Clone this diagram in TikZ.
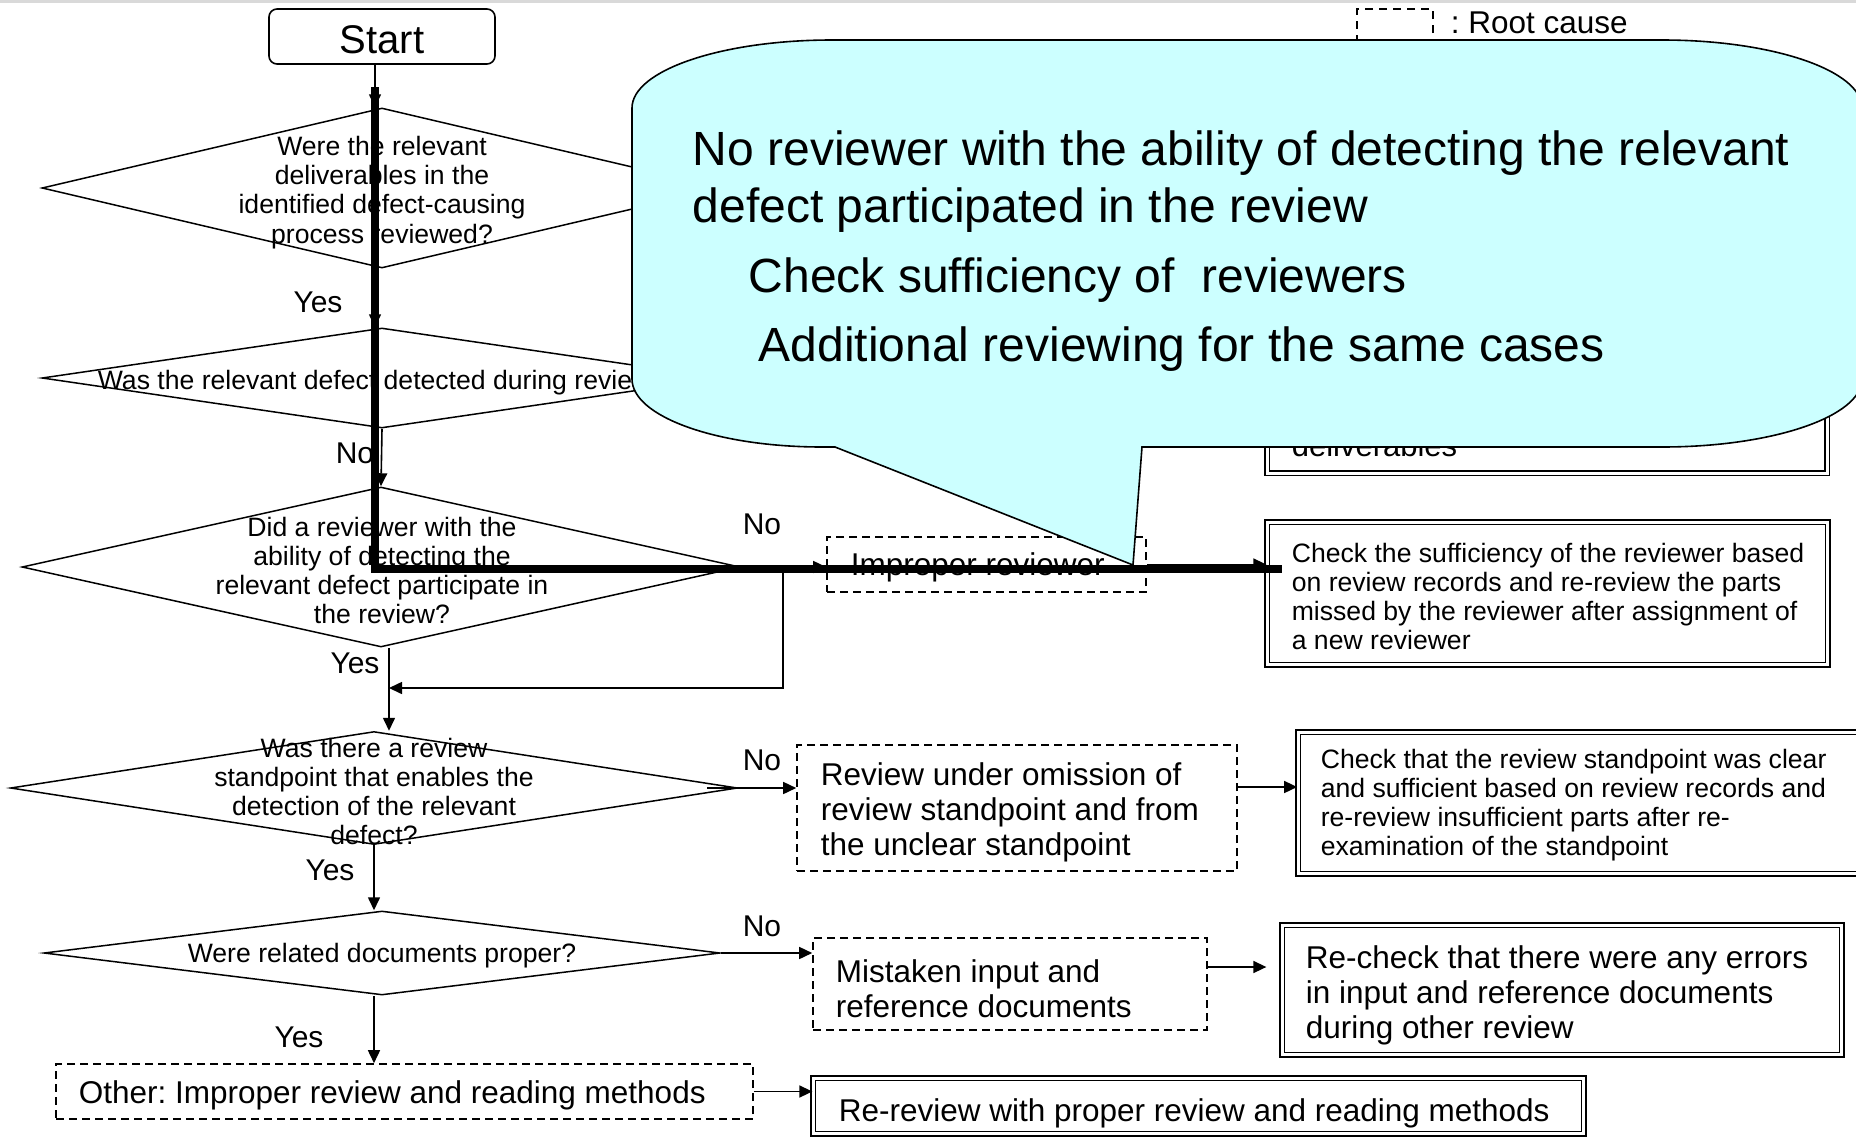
\documentclass[tikz,border=0pt]{standalone}
\usepackage{fontspec}
\setmainfont{Liberation Sans}
\usetikzlibrary{shapes.geometric,arrows.meta}

\definecolor{calloutfill}{HTML}{CCFFFF}
\definecolor{topbar}{HTML}{D9D9D9}

\newcommand{\fsz}[2]{\fontsize{#1}{#2}\selectfont}
\frenchspacing

\begin{document}
\begin{tikzpicture}[x=1pt,y=-1pt,
  line width=1.6pt,
  arr/.style={-{Triangle[length=13pt,width=12pt]}, line width=1.6pt},
  dia/.style={draw, shape=diamond, inner sep=0pt, line width=1.5pt},
  qtext/.style={align=center, inner sep=0pt, font=\fsz{26.6}{29.2}},
  lbl/.style={inner sep=0pt, font=\fsz{30}{32}},
  rootbox/.style={draw, dash pattern=on 8pt off 5pt, line width=1.6pt, inner sep=0pt},
  actbox/.style={draw, double, double distance=3pt, line width=1.7pt, inner sep=0pt},
  rtext/.style={anchor=west, align=left, inner sep=0pt, font=\fsz{31.5}{35}},
  atext/.style={anchor=west, align=left, inner sep=0pt, font=\fsz{26.6}{29}},
  btext/.style={anchor=west, align=left, inner sep=0pt, font=\fsz{31.5}{35}},
  ctext/.style={anchor=base west, inner sep=0pt, font=\fsz{48}{57}},
]
\useasboundingbox (0,0) rectangle (1856,1138);
\fill[topbar] (0,0) rectangle (1856,3.3);

% legend
\node[draw, dash pattern=on 8pt off 6pt, line width=1.5pt, minimum width=76pt,
      minimum height=60pt, inner sep=0pt] (leg) at (1395,39) {};
\node[anchor=base west, inner sep=0pt, font=\fsz{31.5}{34}] (legt) at (1450,33) {: Root cause};

% start
\node[draw, rounded corners=8pt, line width=1.6pt, minimum width=226pt,
      minimum height=55pt, inner sep=0pt] (start) at (382,36.5) {};
\node[inner sep=0pt, font=\fsz{40}{44}] (startt) at (382,39.5) {Start};

% decisions
\node[dia, minimum width=680pt, minimum height=160pt] (d1) at (382,188) {};
\node[dia, minimum width=680pt, minimum height=100pt] (d2) at (382,378) {};
\node[dia, minimum width=718pt, minimum height=160pt] (d3) at (381,567) {};
\node[dia, minimum width=727pt, minimum height=113pt] (d4) at (374,788) {};
\node[dia, minimum width=676pt, minimum height=84pt]  (d5) at (382,953) {};

\node[qtext] (q1) at (382,192.5) {Were the relevant\\deliverables in the\\identified defect-causing\\process reviewed?};
\node[qtext] (q2) at (382,382.5) {Was the relevant defect detected during review?};
\node[qtext] (q3) at (382,570.5) {Did a reviewer with the\\ability of detecting the\\relevant defect participate in\\the review?};
\node[qtext] (q4) at (374,791.5) {Was there a review\\standpoint that enables the\\detection of the relevant\\defect?};
\node[qtext] (q5) at (382,955.5) {Were related documents proper?};

% branch labels
\node[lbl] (y1) at (318,302) {Yes};
\node[lbl] (n2) at (355,453) {No};
\node[lbl] (n3) at (762,524) {No};
\node[lbl] (y3) at (355,663) {Yes};
\node[lbl] (n4) at (762,760) {No};
\node[lbl] (y4) at (330,870) {Yes};
\node[lbl] (n5) at (762,926) {No};
\node[lbl] (y5) at (299,1037) {Yes};

% root causes
\node[rootbox, minimum width=319pt, minimum height=55pt] (r1) at (986.5,564.5) {};
\node[rtext] (r1t) at (850,567.5) {Improper reviewer};
\node[rootbox, minimum width=440pt, minimum height=126pt] (r2) at (1017,808) {};
\node[rtext] (r2t) at (820,812.5) {Review under omission of\\review standpoint and from\\the unclear standpoint};
\node[rootbox, minimum width=394pt, minimum height=92pt] (r3) at (1010,984) {};
\node[rtext] (r3t) at (835,988.5) {Mistaken input and\\reference documents};
\node[rootbox, minimum width=697pt, minimum height=55pt] (r4) at (404.5,1091.5) {};
\node[rtext] (r4t) at (78,1095.5) {Other: Improper review and reading methods};

% countermeasures
\node[actbox, minimum width=560pt, minimum height=130pt] (a0) at (1547,408) {};
\node[anchor=base west, inner sep=0pt, font=\fsz{31}{35}] (a0t) at (1291,456) {deliverables};
\node[actbox, minimum width=560.6pt, minimum height=142.6pt] (a1) at (1547.5,593.5) {};
\node[atext] (a1t) at (1291,596.5) {Check the sufficiency of the reviewer based\\on review records and re-review the parts\\missed by the reviewer after assignment of\\a new reviewer};
\node[actbox, minimum width=561pt, minimum height=141.6pt] (a2) at (1578.5,803) {};
\node[atext] (a2t) at (1320,805.5) {Check that the review standpoint was clear\\and sufficient based on review records and\\re-review insufficient parts after re-\\examination of the standpoint};
\node[actbox, minimum width=559.6pt, minimum height=129.6pt] (a3) at (1562,990) {};
\node[btext] (a3t) at (1305,995.5) {Re-check that there were any errors\\in input and reference documents\\during other review};
\node[actbox, minimum width=770.6pt, minimum height=55.6pt] (a4) at (1198.5,1106) {};
\node[btext] (a4t) at (838,1113.5) {Re-review with proper review and reading methods};

% connectors
\coordinate (cx) at (375,0);
\coordinate (mg) at (389,688);
\coordinate (br) at (783,565);
\draw[arr] (start.south -| cx) -- (d1.north -| cx);
\draw[arr] (d1.south -| cx) -- (d2.north -| cx);
\draw[arr] (d2.south) -- (d3.north);
\draw[arr] (d3.east) -- (d3.east -| r1.west);
\draw[arr] (br) |- (mg);
\draw[arr] (d3.south -| mg) -- (d4.north -| mg);
\coordinate (d4o) at ([xshift=-31pt]d4.east);
\draw[arr] (d4o) -- (d4o -| r2.west);
\coordinate (r2o) at ([yshift=21pt]r2.east);
\draw[arr] (r2o) -- (r2o -| a2.west);
\draw[arr] (d4.south) -- (d4.south |- d5.north);
\draw[arr] (d5.east) -- (d5.east -| r3.west);
\coordinate (r3o) at ([yshift=17pt]r3.east);
\coordinate (a3i) at ([xshift=-15pt]a3.west);
\draw[arr] (r3o) -- (r3o -| a3i);
\draw[arr] (d5.south -| d4.south) -- (d4.south |- r4.north);
\draw[arr] (r4.east) -- (r4.east -| a4.west);
\draw[arr] (r1.east) -- (r1.east -| a1.west);

% speech balloon
\draw[fill=calloutfill, line width=1.6pt]
  (632,108) .. controls (632,70.4) and (721.5,40) .. (832,40)
  -- (1662,40) .. controls (1772.5,40) and (1862,70.4) .. (1862,108)
  -- (1862,379) .. controls (1862,416.6) and (1772.5,447) .. (1662,447)
  -- (1142,447) -- (1133,565) -- (835,447)
  -- (822,447) .. controls (717,447) and (632,416.6) .. (632,379) -- cycle;
\node[ctext] (c1) at (692,165) {No reviewer with the ability of detecting the relevant};
\node[ctext] (c2) at (692,222.5) {defect participated in the review};
\node[ctext] (c3) at (748,292.5) {Check sufficiency of\ \ reviewers};
\node[ctext] (c4) at (758,361) {Additional reviewing for the same cases};

% highlighted path
\coordinate (tk1) at (375,87);
\coordinate (tk2) at (375,569);
\coordinate (tk3) at (1282,569);
\draw[line width=7.5pt, line join=miter] (tk1) -- (tk2) -- (tk3);
\end{tikzpicture}
\end{document}
